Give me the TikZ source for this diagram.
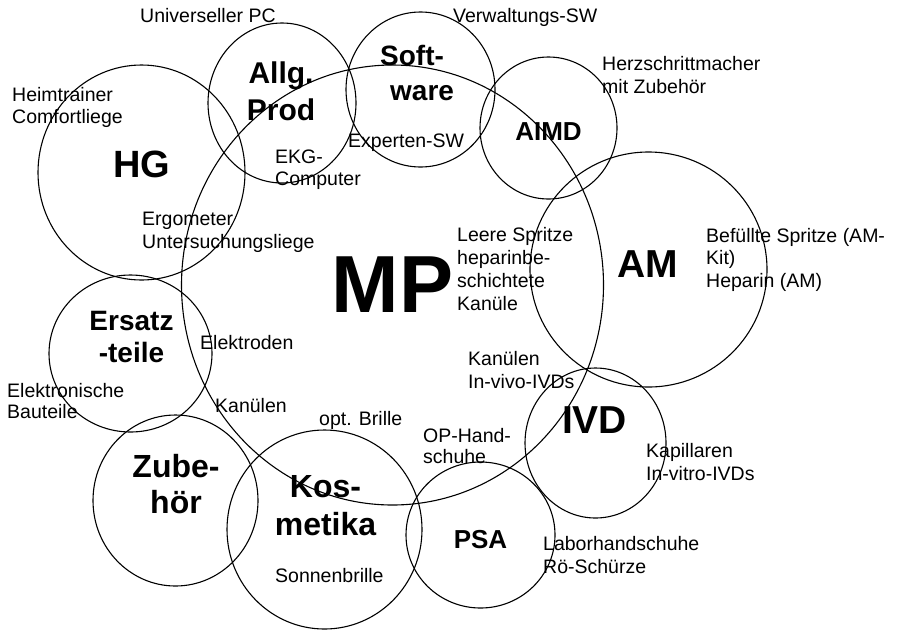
\documentclass[tikz,border=0pt]{standalone}
\usepackage{fontspec}
\setmainfont{Liberation Sans}
\tikzset{
  ring/.style={line width=1.1pt, black},
  lbl/.style={font=\fontsize{19.5}{22.5}\selectfont, align=left, anchor=base west, inner sep=0pt},
  bold/.style n args={2}{font=\fontsize{#1}{#2}\selectfont\bfseries, align=center, anchor=base, inner sep=0pt}
}
\begin{document}
\begin{tikzpicture}[x=1pt,y=-1pt]
\useasboundingbox (0,0) rectangle (901,630);
% circles
\draw[ring] (392.5,285) ellipse [x radius=211pt, y radius=220pt];   % MP
\draw[ring] (141.5,172.5) ellipse [x radius=103.5pt, y radius=107.5pt]; % HG
\draw[ring] (282,103) ellipse [x radius=74pt, y radius=80pt];       % Allg Prod
\draw[ring] (420.5,89.5) ellipse [x radius=74.5pt, y radius=77.5pt]; % Software
\draw[ring] (548.5,128) ellipse [x radius=68.5pt, y radius=71pt];   % AIMD
\draw[ring] (648.5,269.5) ellipse [x radius=118.5pt, y radius=117.5pt]; % AM
\draw[ring] (595.5,443) ellipse [x radius=70.5pt, y radius=75pt];   % IVD
\draw[ring] (480.5,535) ellipse [x radius=74.5pt, y radius=73pt];   % PSA
\draw[ring] (324.5,529.5) ellipse [x radius=97.5pt, y radius=99.5pt]; % Kosmetika
\draw[ring] (175.5,500.5) ellipse [x radius=82.5pt, y radius=85.5pt]; % Zubehoer
\draw[ring] (130.5,353.5) ellipse [x radius=81.5pt, y radius=78.5pt]; % Ersatzteile
% category labels (anchor = baseline of the last line)
\node[bold={81}{90}] (mp) at (392.5,312) {MP};
\node[bold={38}{40}] (hg) at (142,177) {HG};
\node[bold={30}{37}] (allg) at (281,120) {Allg.\\Prod};
\node[font=\fontsize{28}{35}\selectfont\bfseries, align=left, anchor=base west, inner sep=0pt] (soft) at (380,100) {Soft-\\\hspace*{10pt}ware};
\node[bold={26}{30}] (aimd) at (548.5,140) {AIMD};
\node[bold={39}{42}] (am) at (647.5,277) {AM};
\node[bold={39}{42}] (ivd) at (594.5,433) {IVD};
\node[bold={26}{30}] (psa) at (480.5,548) {PSA};
\node[bold={32}{38}] (kos) at (325.5,535) {Kos-\\metika};
\node[bold={32}{36}] (zub) at (176,513) {Zube-\\hör};
\node[bold={28}{32}] (ers) at (131.5,362) {Ersatz\\-teile};
% example labels
\node[lbl] (univ) at (140,22.7) {Universeller PC};
\node[lbl] (verw) at (453,22) {Verwaltungs-SW};
\node[lbl, font=\fontsize{19.5}{21.5}\selectfont] (heim) at (12,123.2) {Heimtrainer\\Comfortliege};
\node[lbl, font=\fontsize{19.5}{22}\selectfont] (ekg) at (275,185) {EKG-\\Computer};
\node[lbl] (expw) at (348,147) {Experten-SW};
\node[lbl, font=\fontsize{19.5}{23}\selectfont] (herz) at (602,93) {Herzschrittmacher\\mit Zubehör};
\node[lbl, font=\fontsize{19.5}{23}\selectfont] (ergo) at (142,248) {Ergometer\\Untersuchungsliege};
\node[lbl, font=\fontsize{19.5}{22.7}\selectfont] (leer) at (457,310) {Leere Spritze\\heparinbe-\\schichtete\\Kanüle};
\node[lbl] (bef) at (706,287) {Befüllte Spritze (AM-\\Kit)\\Heparin (AM)};
\node[lbl] (elek) at (200,349) {Elektroden};
\node[lbl, font=\fontsize{19.5}{21}\selectfont] (bau) at (7,418) {Elektronische\\Bauteile};
\node[lbl] (kanl) at (215,412) {Kanülen};
\node[lbl] (opt) at (319,425) {opt. Brille};
\node[lbl] (sonn) at (275,582) {Sonnenbrille};
\node[lbl, font=\fontsize{19.5}{21}\selectfont] (ophs) at (423,463) {OP-Hand-\\schuhe};
\node[lbl, font=\fontsize{19.5}{23}\selectfont] (labor) at (543,573) {Laborhandschuhe\\Rö-Schürze};
\node[lbl, font=\fontsize{19.5}{23}\selectfont] (kanr) at (468,388) {Kanülen\\In-vivo-IVDs};
\node[lbl, font=\fontsize{19.5}{23}\selectfont] (kap) at (646,480) {Kapillaren\\In-vitro-IVDs};
\end{tikzpicture}
\end{document}
